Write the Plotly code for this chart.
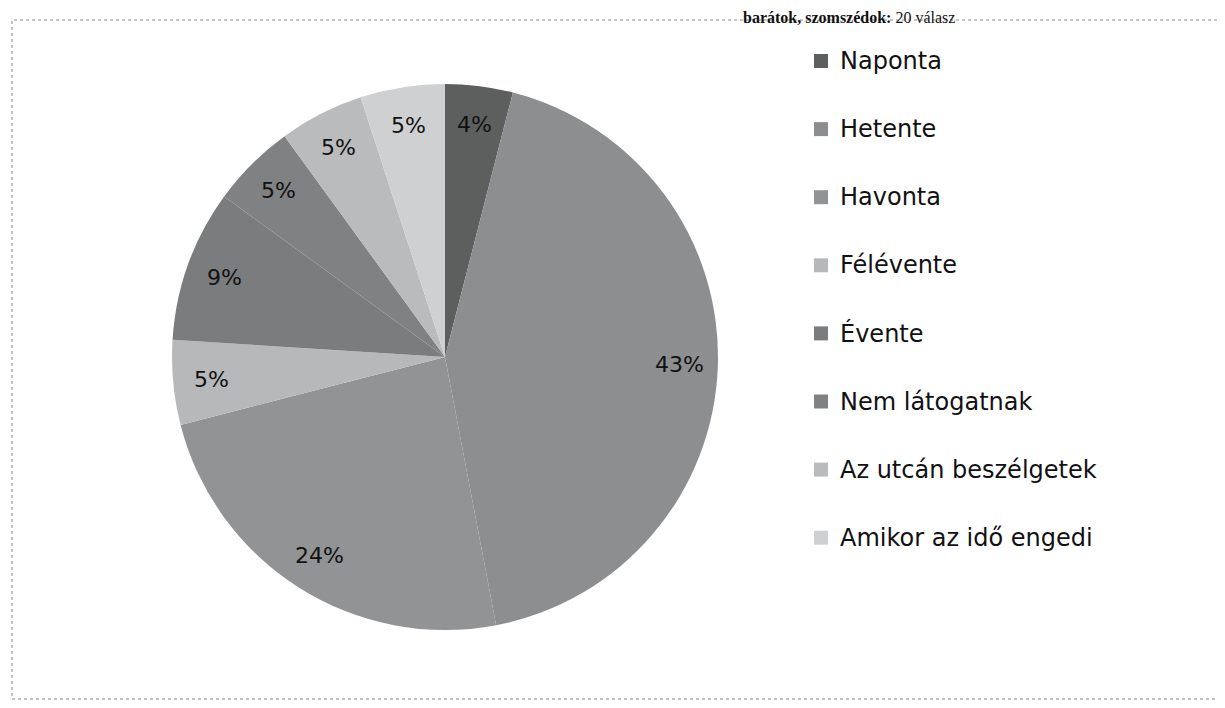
import math
import plotly.graph_objects as go

# ---- data ----
categories = ["Naponta", "Hetente", "Havonta", "Félévente", "Évente",
              "Nem látogatnak", "Az utcán beszélgetek", "Amikor az idő engedi"]
percent_values = [4, 43, 24, 5, 9, 5, 5, 5]
slice_colors = ["#5c5f5e", "#8d8e90", "#929395", "#b7b8ba", "#7b7c7e",
                "#808183", "#babbbd", "#cfd0d2"]
title_bold = "barátok, szomszédok:"
title_rest = " 20 válasz"

# ---- layout geometry (page pixels; the page body has an 8px margin) ----
OFF = 8
FW, FH = 1217, 692
ML, MT = 12 - OFF, 20 - OFF
MR = FW - (1220 - OFF)
MB = FH - (699 - OFF)
PW, PH = FW - ML - MR, FH - MT - MB
CX, CY, R = 445, 357, 273


def px(x):
    return (x - OFF - ML) / PW


def py(y):
    return 1 - (y - OFF - MT) / PH


fig = go.Figure()
fig.add_trace(go.Pie(
    labels=categories,
    values=percent_values,
    sort=False,
    direction="clockwise",
    rotation=0,
    marker=dict(colors=slice_colors, line=dict(width=0)),
    textinfo="none",
    showlegend=False,
    hoverinfo="label+percent",
    domain=dict(x=[px(CX - R), px(CX + R)], y=[py(CY + R), py(CY - R)]),
))

annotations = []
shapes = []

# percentage labels near the outer edge of each slice
total = sum(percent_values)
cum = 0
for v in percent_values:
    theta = math.radians(360 * (cum + v / 2) / total)
    cum += v
    k = 0.86
    x = CX + R * k * math.sin(theta)
    y = CY - R * k * math.cos(theta)
    annotations.append(dict(
        x=px(x), y=py(y), xref="paper", yref="paper",
        text=f"{round(100 * v / total)}%", showarrow=False,
        font=dict(family="DejaVu Sans", size=22, color="#111111"),
        xanchor="center", yanchor="middle",
    ))

# legend
for i, (name, col) in enumerate(zip(categories, slice_colors)):
    yc = 61 + 68.1 * i
    shapes.append(dict(type="rect", xref="paper", yref="paper",
                       x0=px(814), x1=px(828), y0=py(yc + 7), y1=py(yc - 7),
                       fillcolor=col, line=dict(width=0)))
    annotations.append(dict(
        x=px(838), y=py(yc), xref="paper", yref="paper", text=name,
        showarrow=False, xanchor="left", yanchor="middle",
        font=dict(family="DejaVu Sans", size=24, color="#111111"),
    ))

# frame
shapes.append(dict(type="rect", xref="paper", yref="paper",
                   x0=0, x1=1, y0=0, y1=1,
                   line=dict(color="#8a8a8a", width=1, dash="dot")))

# title line at the top (cropped in the source scan)
annotations.append(dict(
    x=px(956), y=py(27), xref="paper", yref="paper",
    text=f"<b>{title_bold}</b>{title_rest}", showarrow=False,
    xanchor="right", yanchor="bottom", borderpad=0,
    font=dict(family="Liberation Serif", size=16, color="#111111"),
))

fig.update_layout(
    width=FW, height=FH,
    margin=dict(l=ML, r=MR, t=MT, b=MB),
    paper_bgcolor="white", plot_bgcolor="white",
    annotations=annotations, shapes=shapes,
    showlegend=False,
)

fig.write_html("out.html")
